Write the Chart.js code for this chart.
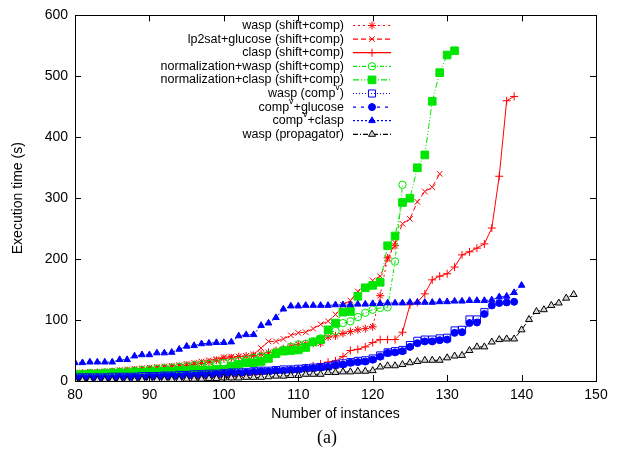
<!DOCTYPE html>
<html>
<head>
<meta charset="utf-8">
<script src="https://cdn.jsdelivr.net/npm/chart.js@4.4.0/dist/chart.umd.min.js"></script>
<style>
html,body{margin:0;padding:0;background:#fff;}
#wrap{width:618px;height:451px;}
</style>
</head>
<body>
<div id="wrap"><canvas id="cactus" width="618" height="451"></canvas></div>
<script>
// every series starts at instance 80 (first visible one) and goes one instance per value
const firstInstance = 80;
const xTicks = [80, 90, 100, 110, 120, 130, 140, 150];
const yTicks = [0, 100, 200, 300, 400, 500, 600];

const seriesNames = [
  'wasp (shift+comp)',
  'lp2sat+glucose (shift+comp)',
  'clasp (shift+comp)',
  'normalization+wasp (shift+comp)',
  'normalization+clasp (shift+comp)',
  'wasp (comp^v)',
  'comp^v+glucose',
  'comp^v+clasp',
  'wasp (propagator)'
];

const waspShiftComp = [
  12,13,13,14,14,15,16,17,18,19,
  20,21,22,23,24,26,27,29,31,34,
  37,38,40,41,42,44,47,50,53,57,
  60,61,62,62,72,74,78,81,84,86,
  89,140,202,222
];
const lp2satShiftComp = [
  14,14,15,15,16,17,18,19,20,21,
  22,23,24,25,26,28,30,32,34,36,
  39,40,40,41,44,54,65,65,69,75,
  79,80,86,93,98,109,125,132,147,155,
  165,172,200,227,258,266,294,311,318,340
];
const claspShiftComp = [
  1,1,1,2,2,2,2,2,3,3,
  3,3,3,4,4,4,4,5,5,6,
  6,7,8,9,10,11,12,14,16,18,
  20,22,25,28,31,33,40,50,52,56,
  63,68,68,68,80,125,129,143,166,172,
  176,187,207,212,218,225,251,336,460,467
];
const normWaspShiftComp = [
  12,12,13,13,14,15,15,16,17,18,
  19,20,21,22,23,24,26,27,28,29,
  30,31,33,35,38,40,43,47,51,56,
  60,61,65,70,79,82,95,98,105,112,
  117,120,121,196,322
];
const normClaspShiftComp = [
  10,10,11,11,12,12,13,13,14,14,
  15,15,16,16,17,17,18,18,18,19,
  19,24,27,30,30,32,37,45,49,50,
  51,55,64,68,84,95,113,114,139,153,
  157,162,222,238,293,300,350,371,459,506,
  535,542
];
const waspCompV = [
  6,6,6,6,6,7,7,7,7,8,
  8,8,9,9,10,10,11,11,12,12,
  13,14,14,15,16,17,17,18,19,19,
  20,21,22,23,24,27,29,31,33,34,
  37,42,47,49,51,59,66,68,68,70,
  71,83,84,101,101,113
];
const compVGlucose = [
  5,5,5,5,5,5,6,6,6,6,
  7,7,8,8,8,9,9,10,10,11,
  12,13,13,14,15,16,16,17,17,18,
  18,20,21,22,23,26,27,30,31,32,
  35,40,46,47,49,56,62,65,65,67,
  68,79,80,95,96,110,124,128,129,130
];
const compVClasp = [
  30,30,31,31,31,31,35,35,41,43,
  43,46,46,47,52,57,58,61,62,63,
  63,64,74,76,76,91,95,104,118,123,
  123,124,124,124,124,125,125,125,126,126,
  127,127,128,128,128,129,129,129,129,130,
  130,131,131,132,132,132,133,138,139,145,
  157
];
const waspPropagator = [
  1,1,1,1,1,1,1,1,1,2,
  2,2,2,2,2,3,3,3,4,4,
  5,5,5,6,6,6,7,8,8,9,
  9,11,11,11,14,14,15,15,16,16,
  17,23,25,25,27,30,32,34,34,34,
  38,41,42,50,56,56,64,68,69,69,
  84,101,114,117,124,128,136,142
];

const allSeries = [waspShiftComp, lp2satShiftComp, claspShiftComp, normWaspShiftComp,
  normClaspShiftComp, waspCompV, compVGlucose, compVClasp, waspPropagator];

const RED = '#ff0000', GREEN = '#00e600', BLUE = '#0000ff', BLACK = '#000000';
const styles = [
  {color: RED,   dash: [2,3],         point: 'star',     r: 4,   fill: RED},
  {color: RED,   dash: [5,3],         point: 'crossRot', r: 4,   fill: RED},
  {color: RED,   dash: [],            point: 'cross',    r: 4,   fill: RED},
  {color: GREEN, dash: [4,2,1,2],     point: 'circle',   r: 3.7, fill: 'rgba(0,0,0,0)'},
  {color: GREEN, dash: [6,2,1,2,1,2], point: 'rect',     r: 5.4, fill: GREEN},
  {color: BLUE,  dash: [1,2],         point: 'rect',     r: 5,   fill: 'rgba(0,0,0,0)'},
  {color: BLUE,  dash: [3,5],         point: 'circle',   r: 3.5, fill: BLUE},
  {color: BLUE,  dash: [2,2],         point: 'triangle', r: 3.8, fill: BLUE},
  {color: BLACK, dash: [5,2,1,2],     point: 'triangle', r: 4,   fill: '#d8d8d8'}
];

function toPoints(vals){
  return vals.map((v,i)=>({x: firstInstance + i, y: v}));
}

const datasets = allSeries.map((vals,i)=>({
  label: seriesNames[i],
  data: toPoints(vals),
  borderColor: styles[i].color,
  backgroundColor: styles[i].fill,
  borderWidth: 1,
  borderDash: styles[i].dash,
  pointStyle: styles[i].point,
  pointRadius: styles[i].r,
  pointBorderWidth: 1,
  pointBorderColor: styles[i].color,
  pointBackgroundColor: styles[i].fill,
  fill: false,
  tension: 0,
  order: allSeries.length - i
}));

const FONT = '"Liberation Sans", Arial, sans-serif';

function drawLabel(ctx, text, rightX, y){
  const parts = text.split('^v');
  if (parts.length === 1) {
    ctx.textAlign = 'right';
    ctx.fillText(text, rightX, y);
    return;
  }
  const base = ctx.font;
  const w0 = ctx.measureText(parts[0]).width;
  const w2 = ctx.measureText(parts[1]).width;
  ctx.font = '9px ' + FONT;
  const w1 = ctx.measureText('v').width;
  ctx.font = base;
  let x = rightX - (w0 + w1 + w2);
  ctx.textAlign = 'left';
  ctx.fillText(parts[0], x, y);
  ctx.font = '9px ' + FONT;
  ctx.fillText('v', x + w0, y - 6);
  ctx.font = base;
  ctx.fillText(parts[1], x + w0 + w1, y);
}

const framePlugin = {
  id: 'frame',
  afterDraw(chart){
    const ctx = chart.ctx;
    const a = chart.chartArea;
    const xs = chart.scales.x, ys = chart.scales.y;
    ctx.save();
    ctx.strokeStyle = '#000';
    ctx.lineWidth = 1;
    ctx.setLineDash([]);
    ctx.strokeRect(Math.round(a.left)+0.5, Math.round(a.top)+0.5,
      Math.round(a.right-a.left), Math.round(a.bottom-a.top));
    ctx.beginPath();
    xTicks.forEach(t=>{
      const px = Math.round(xs.getPixelForValue(t)) + 0.5;
      ctx.moveTo(px, a.bottom); ctx.lineTo(px, a.bottom - 6);
      ctx.moveTo(px, a.top); ctx.lineTo(px, a.top + 6);
    });
    yTicks.forEach(t=>{
      const py = Math.round(ys.getPixelForValue(t)) + 0.5;
      ctx.moveTo(a.left, py); ctx.lineTo(a.left + 6, py);
      ctx.moveTo(a.right, py); ctx.lineTo(a.right - 6, py);
    });
    ctx.stroke();

    // key, gnuplot style: text right aligned, sample to the right
    ctx.font = '12.5px ' + FONT;
    ctx.textBaseline = 'middle';
    const textRight = 344, lineL = 353, lineR = 391, markX = 372;
    seriesNames.forEach((name,i)=>{
      const y = 25.5 + i*13.6;
      const st = styles[i];
      ctx.fillStyle = '#000';
      drawLabel(ctx, name, textRight, y);
      ctx.strokeStyle = st.color;
      ctx.lineWidth = 1.2;
      ctx.setLineDash(st.dash);
      ctx.beginPath();
      ctx.moveTo(lineL, y); ctx.lineTo(lineR, y);
      ctx.stroke();
      ctx.setLineDash([]);
      ctx.lineWidth = 1;
      ctx.fillStyle = st.fill;
      Chart.helpers.drawPoint(ctx, {pointStyle: st.point, radius: st.r, rotation: 0, borderWidth: 1}, markX, y);
    });

    ctx.fillStyle = '#000';
    ctx.textAlign = 'center';
    ctx.font = '18px "Liberation Serif", "Times New Roman", serif';
    ctx.fillText('(a)', 327, 438);
    ctx.restore();
  }
};

new Chart(document.getElementById('cactus'), {
  type: 'line',
  data: {datasets: datasets},
  options: {
    responsive: false,
    animation: false,
    devicePixelRatio: 1,
    layout: {padding: {top: 15, right: 22, left: 0, bottom: 0}},
    plugins: {legend: {display: false}, tooltip: {enabled: false}},
    scales: {
      x: {
        type: 'linear', min: 80, max: 150,
        afterFit: s => { s.height = 70; },
        afterBuildTicks: s => { s.ticks = xTicks.map(v=>({value: v})); },
        grid: {display: false, drawTicks: false},
        border: {display: false},
        ticks: {color: '#000', padding: 6, maxRotation: 0, font: {family: FONT, size: 14}},
        title: {display: true, text: 'Number of instances', color: '#000', padding: {top: 0, bottom: 28},
          font: {family: FONT, size: 14}}
      },
      y: {
        type: 'linear', min: 0, max: 600,
        afterFit: s => { s.width = 75; },
        afterBuildTicks: s => { s.ticks = yTicks.map(v=>({value: v})); },
        grid: {display: false, drawTicks: false},
        border: {display: false},
        ticks: {color: '#000', padding: 7, font: {family: FONT, size: 14}},
        title: {display: true, text: 'Execution time (s)', color: '#000', padding: {top: 10, bottom: 0},
          font: {family: FONT, size: 14}}
      }
    }
  },
  plugins: [framePlugin]
});
</script>
</body>
</html>
